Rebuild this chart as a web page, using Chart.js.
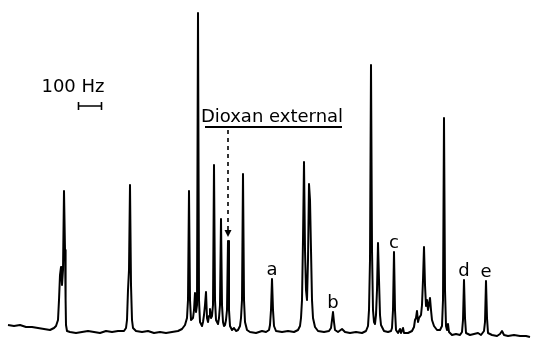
<!DOCTYPE html>
<html>
<head>
<meta charset="utf-8">
<script src="https://cdn.jsdelivr.net/npm/chart.js@4/dist/chart.umd.min.js"></script>
<style>
  body { margin: 0; background: #fff; }
  canvas { display: block; }
</style>
</head>
<body>
<canvas id="nmrSpectrum" width="541" height="339"></canvas>
<script>
// spectrum trace (position, intensity above baseline)
const specX = [8, 14, 20, 26, 32, 38, 44, 50, 54, 56, 58, 59, 60, 61, 62, 63, 64, 65, 65.6, 66, 67, 70, 76, 82, 88, 94, 100, 106, 112, 118, 124,
    126, 127, 128, 129, 130, 131, 132, 133, 136, 142, 148, 154, 160, 166, 172, 178, 182, 185, 187, 188, 189, 190, 191, 193, 194, 195, 196, 197,
    198, 199, 200, 202, 203, 204, 205, 206, 207, 208, 209, 210, 211, 212, 213, 214, 215, 216, 218, 219, 220, 221, 222, 223, 224, 225, 226, 227,
    228, 229, 230, 232, 234, 236, 238, 240, 241, 242, 243, 244, 245, 247, 250, 256, 262, 266, 269, 270, 271, 272, 273, 274, 276, 282, 288, 294,
    298, 300, 301, 302, 303, 304, 305, 306, 307, 308, 309, 310, 311, 312, 313, 315, 318, 324, 329, 331, 332, 333, 334, 335, 338, 342, 345, 350,
    356, 362, 366, 368, 369, 370, 371, 372, 373, 374, 375, 376, 377, 378, 379, 380, 381, 384, 388, 391, 392, 393, 394, 395, 396, 398, 400, 401,
    403, 404, 408, 412, 414, 415, 416, 417, 418, 419, 421, 422, 423, 424, 425, 426, 427, 428, 429, 430, 431, 432, 434, 437, 440, 442, 443, 444,
    445, 446, 447, 448, 449, 452, 456, 460, 462, 463, 464, 465, 466, 470, 474, 478, 481, 484, 485, 486, 487, 488, 492, 497, 500, 502, 504, 508,
    514, 520, 526, 530];
const specY = [7, 6, 7, 5, 5, 4, 3, 2, 4, 6, 12, 32, 57, 65, 47, 62, 141, 82, 32, 7, 1, 0, -1, 0, 1, 0, -1, 1, 0, 1, 1,
    4, 12, 42, 62, 147, 47, 12, 4, 1, 0, 1, -1, 0, -1, 0, 1, 3, 7, 14, 32, 141, 32, 12, 14, 22, 39, 20, 27,
    319, 32, 10, 6, 10, 17, 27, 40, 14, 10, 16, 23, 14, 16, 27, 167, 32, 12, 8, 14, 27, 113, 27, 10, 6, 7, 12, 22,
    91, 22, 6, 2, 4, 1, 2, 6, 14, 32, 158, 32, 10, 2, 0, -1, 1, 0, 2, 7, 22, 53, 22, 6, 1, 0, 1, 0,
    2, 6, 14, 32, 92, 170, 82, 42, 32, 72, 148, 132, 82, 32, 14, 5, 1, 0, 1, 4, 12, 20, 10, 2, 0, 3, 0, -1,
    0, -1, 1, 6, 22, 72, 267, 82, 22, 10, 8, 17, 42, 89, 52, 17, 7, 1, 0, 1, 4, 22, 80, 22, 2, -1, 3, -1,
    4, -1, -1, 1, 5, 12, 14, 21, 10, 14, 17, 27, 52, 85, 47, 26, 32, 22, 28, 34, 22, 12, 6, 2, 2, 6, 32, 214,
    42, 6, 2, 8, 0, -3, -2, -3, 0, 12, 52, 14, -1, -3, -2, -1, -3, 1, 10, 51, 14, -1, -3, -4, -2, 1, -3, -4,
    -3, -4, -4, -5];

// labelled peaks
const peakNames = ['a', 'b', 'c', 'd', 'e'];
const peakPos = [272, 333, 394, 464, 486];
const peakTop = [53, 20, 80, 52, 51];

// reference peak and scale bar
const dioxanPos = 228;
const dioxanTop = 91;
const scaleLabel = '100 Hz';

const labelFont = '18px "DejaVu Sans", sans-serif';

const annotations = {
    id: 'annotations',
    afterDatasetsDraw: chart => {
        const ctx = chart.ctx;
        const xs = chart.scales.x;
        const ys = chart.scales.y;
        ctx.save();
        ctx.fillStyle = '#000';
        ctx.strokeStyle = '#000';
        ctx.font = labelFont;
        ctx.textAlign = 'center';
        ctx.textBaseline = 'alphabetic';

        // peak letters
        peakNames.forEach((name, i) => {
            ctx.fillText(name, xs.getPixelForValue(peakPos[i]), ys.getPixelForValue(peakTop[i]) - 4);
        });

        // scale bar
        ctx.fillText(scaleLabel, 73, 92);
        ctx.lineWidth = 1.6;
        ctx.beginPath();
        ctx.moveTo(78, 106); ctx.lineTo(102, 106);
        ctx.moveTo(78.5, 102); ctx.lineTo(78.5, 110);
        ctx.moveTo(101.5, 102); ctx.lineTo(101.5, 110);
        ctx.stroke();

        // dioxan label with underline and dashed arrow
        const dx = xs.getPixelForValue(dioxanPos);
        ctx.fillText('Dioxan external', 272, 122);
        ctx.lineWidth = 2.2;
        ctx.beginPath();
        ctx.moveTo(205, 127); ctx.lineTo(342, 127);
        ctx.stroke();
        const tip = ys.getPixelForValue(dioxanTop) - 4;
        ctx.lineWidth = 1.6;
        ctx.setLineDash([4, 4]);
        ctx.beginPath();
        ctx.moveTo(dx, 130); ctx.lineTo(dx, tip - 4);
        ctx.stroke();
        ctx.setLineDash([]);
        ctx.beginPath();
        ctx.moveTo(dx - 3.5, tip - 7); ctx.lineTo(dx + 3.5, tip - 7); ctx.lineTo(dx, tip);
        ctx.closePath();
        ctx.fill();
        ctx.restore();
    }
};

const dataSpectrum = {
    datasets: [{
        label: 'spectrum',
        data: specX.map((x, i) => ({ x: x, y: specY[i] })),
        borderColor: '#000',
        borderWidth: 2,
        borderJoinStyle: 'round',
        pointRadius: 0,
        tension: 0,
        fill: false
    }]
};

const configSpectrum = {
    type: 'line',
    data: dataSpectrum,
    plugins: [annotations],
    options: {
        responsive: false,
        animation: false,
        devicePixelRatio: 1,
        layout: { padding: 0 },
        plugins: {
            legend: { display: false },
            tooltip: { enabled: false }
        },
        scales: {
            x: { type: 'linear', min: 0, max: 541, display: false },
            y: { type: 'linear', min: -7, max: 332, display: false }
        }
    }
};

new Chart(
    document.getElementById('nmrSpectrum'),
    configSpectrum
);
</script>
</body>
</html>
